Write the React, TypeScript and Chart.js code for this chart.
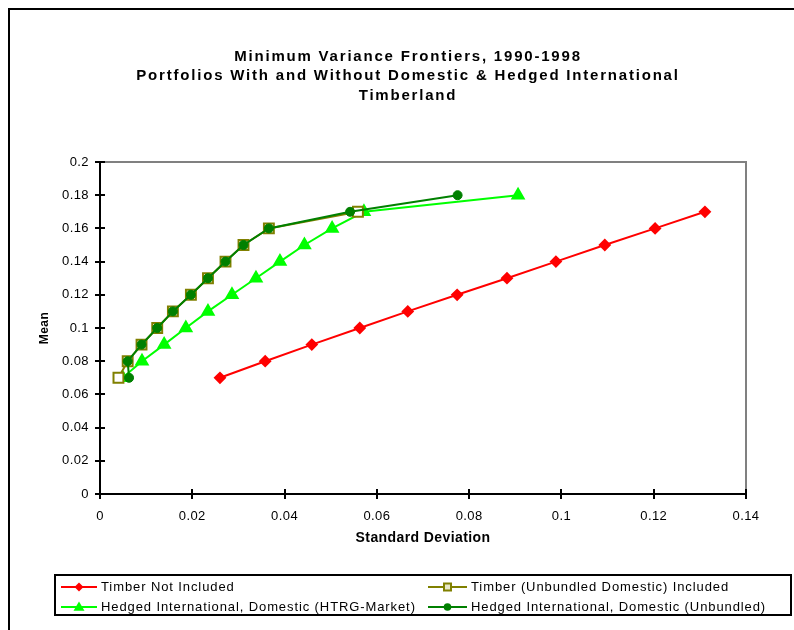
import React, { useEffect, useRef } from 'react';
import { Chart, registerables } from 'chart.js';

Chart.register(...registerables);

const FONT = '"Liberation Sans", Arial, Helvetica, sans-serif';

const TITLE_LINES = [
  'Minimum Variance Frontiers, 1990-1998',
  'Portfolios With and Without Domestic & Hedged International',
  'Timberland',
];
const X_TITLE = 'Standard Deviation';
const Y_TITLE = 'Mean';

const SERIES_LABELS = [
  'Timber Not Included',
  'Timber (Unbundled Domestic) Included',
  'Hedged International, Domestic (HTRG-Market)',
  'Hedged International, Domestic (Unbundled)',
];

// Timber Not Included
const notIncludedSD = [0.026, 0.0358, 0.0459, 0.0563, 0.0667, 0.0774, 0.0882, 0.0988, 0.1094, 0.1203, 0.1311];
const notIncludedMean = [0.07, 0.08, 0.09, 0.10, 0.11, 0.12, 0.13, 0.14, 0.15, 0.16, 0.17];

// Timber (Unbundled Domestic) Included
const unbundledDomSD = [0.004, 0.006, 0.009, 0.0124, 0.0158, 0.0197, 0.0234, 0.0272, 0.0311, 0.0366, 0.0559];
const unbundledDomMean = [0.07, 0.08, 0.09, 0.10, 0.11, 0.12, 0.13, 0.14, 0.15, 0.16, 0.17];

// Hedged International, Domestic (HTRG-Market)
const htrgSD = [0.0049, 0.0091, 0.0139, 0.0186, 0.0234, 0.0286, 0.0338, 0.039, 0.0443, 0.0503, 0.0572, 0.0906];
const htrgMean = [0.07, 0.08, 0.09, 0.10, 0.11, 0.12, 0.13, 0.14, 0.15, 0.16, 0.17, 0.18];

// Hedged International, Domestic (Unbundled)
const hedgedUnbSD = [0.0063, 0.006, 0.009, 0.0124, 0.0158, 0.0197, 0.0234, 0.0272, 0.0311, 0.0366, 0.0542, 0.0775];
const hedgedUnbMean = [0.07, 0.08, 0.09, 0.10, 0.11, 0.12, 0.13, 0.14, 0.15, 0.16, 0.17, 0.18];

const X_MIN = 0, X_MAX = 0.14, X_STEP = 0.02;
const Y_MIN = 0, Y_MAX = 0.2, Y_STEP = 0.02;

const COLORS = ['#FF0000', '#808000', '#00FF00', '#008000'];
const STYLES = ['rectRot', 'rect', 'triangle', 'circle'];

const pts = (xs: number[], ys: number[]) => xs.map((x, i) => ({ x, y: ys[i] }));

const fmt = (v: number) => String(+Number(v).toFixed(2));

function drawMarker(ctx: CanvasRenderingContext2D, style: string, x: number, y: number, color: string) {
  ctx.save();
  ctx.fillStyle = color;
  ctx.strokeStyle = color;
  ctx.beginPath();
  if (style === 'rectRot') {
    const r = 4.5;
    ctx.moveTo(x, y - r); ctx.lineTo(x + r, y); ctx.lineTo(x, y + r); ctx.lineTo(x - r, y); ctx.closePath();
    ctx.fill();
  } else if (style === 'rect') {
    ctx.lineWidth = 2;
    ctx.fillStyle = '#e8e8c8';
    ctx.rect(x - 3.5, y - 3.5, 7, 7);
    ctx.fill(); ctx.stroke();
  } else if (style === 'triangle') {
    const r = 5.5;
    ctx.moveTo(x, y - r); ctx.lineTo(x + r, y + r * 0.7); ctx.lineTo(x - r, y + r * 0.7); ctx.closePath();
    ctx.fill();
  } else {
    ctx.arc(x, y, 3.8, 0, Math.PI * 2);
    ctx.fill();
  }
  ctx.restore();
}

const spacingPlugin = {
  id: 'spacing',
  beforeDraw(chart: any) {
    (chart.ctx as any).letterSpacing = '0.4px';
  },
};

const framePlugin = {
  id: 'frameTicks',
  beforeDatasetsDraw(chart: any) {
    const { ctx, chartArea: a, scales } = chart;
    ctx.save();
    ctx.strokeStyle = '#808080';
    ctx.lineWidth = 2;
    ctx.beginPath();
    ctx.moveTo(a.left, a.top);
    ctx.lineTo(a.right, a.top);
    ctx.lineTo(a.right, a.bottom);
    ctx.stroke();
    ctx.strokeStyle = '#000';
    ctx.beginPath();
    const xs = scales.x, ys = scales.y;
    xs.ticks.forEach((_t: any, i: number) => {
      const px = Math.round(xs.getPixelForTick(i));
      ctx.moveTo(px, a.bottom - 5);
      ctx.lineTo(px, a.bottom + 5);
    });
    ys.ticks.forEach((_t: any, i: number) => {
      const py = Math.round(ys.getPixelForTick(i));
      ctx.moveTo(a.left - 5, py);
      ctx.lineTo(a.left + 5, py);
    });
    ctx.stroke();
    ctx.restore();
  },
};

const titlePlugin = {
  id: 'multiTitle',
  afterDraw(chart: any) {
    const ctx = chart.ctx;
    ctx.save();
    (ctx as any).letterSpacing = '1.8px';
    ctx.font = `bold 15px ${FONT}`;
    ctx.fillStyle = '#000';
    ctx.textAlign = 'center';
    ctx.textBaseline = 'middle';
    const ys = [47, 66, 86];
    TITLE_LINES.forEach((t, i) => ctx.fillText(t, 398, ys[i]));
    ctx.restore();
  },
};

const legendPlugin = {
  id: 'boxLegend',
  afterDraw(chart: any) {
    const ctx = chart.ctx;
    ctx.save();
    ctx.strokeStyle = '#000';
    ctx.lineWidth = 2;
    ctx.strokeRect(45, 565, 736, 40);
    ctx.font = `13px ${FONT}`;
    (ctx as any).letterSpacing = '0.9px';
    ctx.textAlign = 'left';
    ctx.textBaseline = 'middle';
    chart.data.datasets.forEach((ds: any, i: number) => {
      const col = i % 2;
      const row = Math.floor(i / 2);
      const x0 = col ? 418 : 51;
      const x1 = col ? 457 : 87;
      const tx = col ? 461 : 91;
      const y = row ? 597 : 577;
      ctx.strokeStyle = COLORS[i];
      ctx.lineWidth = 2;
      ctx.beginPath();
      ctx.moveTo(x0, y);
      ctx.lineTo(x1, y);
      ctx.stroke();
      drawMarker(ctx, STYLES[i], (x0 + x1) / 2, y, COLORS[i]);
      ctx.fillStyle = '#000';
      ctx.fillText(ds.label, tx, y);
    });
    ctx.restore();
  },
};

export default function App() {
  const ref = useRef<HTMLCanvasElement | null>(null);

  useEffect(() => {
    if (!ref.current) return;
    Chart.defaults.font.family = FONT;
    Chart.defaults.color = '#000';
    const mk = (i: number, xs: number[], ys: number[], extra: any) => ({
      label: SERIES_LABELS[i],
      data: pts(xs, ys),
      showLine: true,
      borderColor: COLORS[i],
      backgroundColor: COLORS[i],
      pointBorderColor: COLORS[i],
      pointBackgroundColor: COLORS[i],
      borderWidth: 2,
      pointStyle: STYLES[i],
      ...extra,
    });
    const chart = new Chart(ref.current, {
      type: 'scatter',
      data: {
        datasets: [
          mk(0, notIncludedSD, notIncludedMean, { pointRadius: 5, order: 3 }),
          mk(1, unbundledDomSD, unbundledDomMean, { pointRadius: 7, pointBorderWidth: 2, pointBackgroundColor: '#ffffff', order: 1 }),
          mk(2, htrgSD, htrgMean, { pointRadius: 6.5, order: 2 }),
          mk(3, hedgedUnbSD, hedgedUnbMean, { pointRadius: 4.5, pointBorderWidth: 1, order: 0 }),
        ],
      },
      options: {
        animation: false,
        responsive: false,
        events: [],
        layout: { padding: { top: 152, right: 48, bottom: 76, left: 0 } },
        plugins: {
          legend: { display: false },
          title: { display: false },
          tooltip: { enabled: false },
        },
        scales: {
          x: {
            type: 'linear',
            min: X_MIN,
            max: X_MAX,
            grid: { display: false, drawTicks: false },
            border: { display: true, color: '#000', width: 2 },
            ticks: { stepSize: X_STEP, padding: 15, color: '#000', font: { size: 13, family: FONT }, callback: (v: any) => fmt(v), maxRotation: 0 },
            title: { display: true, text: X_TITLE, color: '#000', font: { size: 14, weight: 'bold', family: FONT }, padding: { top: 0, bottom: 7 } },
            afterFit: (s: any) => { s.height = 60; },
          },
          y: {
            type: 'linear',
            min: Y_MIN,
            max: Y_MAX,
            grid: { display: false, drawTicks: false },
            border: { display: true, color: '#000', width: 2 },
            ticks: { stepSize: Y_STEP, padding: 11, color: '#000', font: { size: 13, family: FONT }, callback: (v: any) => fmt(v) },
            title: { display: true, text: Y_TITLE, color: '#000', font: { size: 12, weight: 'bold', family: FONT }, padding: { top: 27, bottom: 0 } },
            afterFit: (s: any) => { s.width = 90; },
          },
        },
      } as any,
      plugins: [spacingPlugin, framePlugin, titlePlugin, legendPlugin],
    });
    return () => chart.destroy();
  }, []);

  return (
    <>
      <style>{'html{overflow:hidden;} body{margin:8px 0 0 8px;}'}</style>
      <div style={{ width: 784, height: 620, borderLeft: '2px solid #000', borderTop: '2px solid #000', background: '#fff' }}>
        <canvas ref={ref} width={784} height={620} style={{ display: 'block' }} />
      </div>
    </>
  );
}
